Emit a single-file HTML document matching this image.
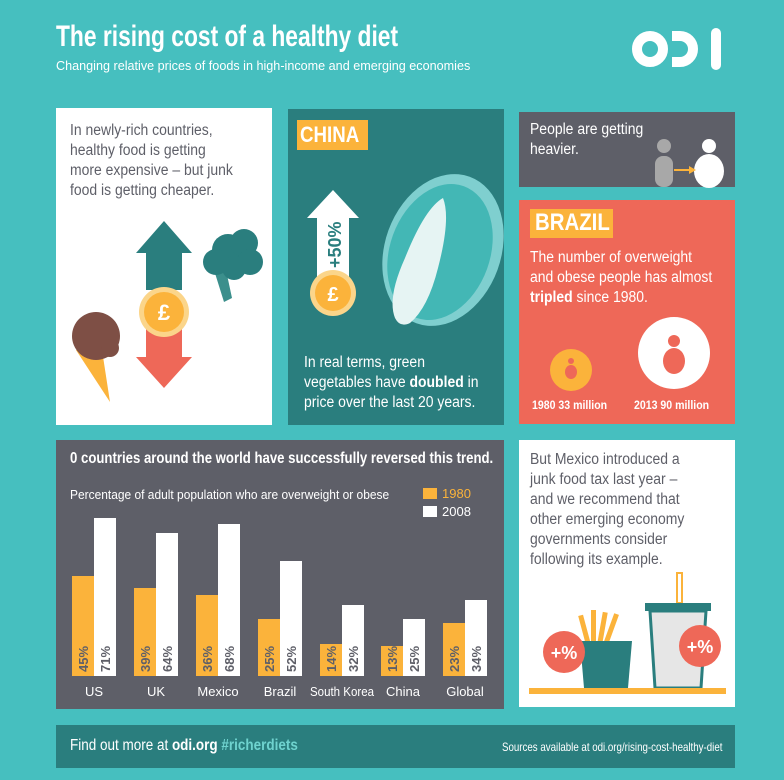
<!DOCTYPE html>
<html><head><meta charset="utf-8"><style>
*{margin:0;padding:0;box-sizing:border-box}
body{width:784px;height:780px;background:#46bfbf;position:relative;overflow:hidden;font-family:"Liberation Sans",sans-serif}
.a{position:absolute;transform-origin:0 0;white-space:nowrap}
.t{font-size:15.5px;line-height:20px;transform:scaleX(.9)}
</style></head><body>
<svg class="a" style="left:0;top:0" width="784" height="780" viewBox="0 0 784 780">
<rect x="56" y="108" width="216" height="317" fill="#fff"/>
<rect x="288" y="109" width="216" height="316" fill="#2a7e7e"/>
<rect x="519" y="112" width="216" height="75" fill="#5e5f68"/>
<rect x="519" y="200" width="216" height="224" fill="#ee6858"/>
<rect x="56" y="440" width="448" height="269" fill="#5e5f68"/>
<rect x="519" y="440" width="216" height="267" fill="#fff"/>
<rect x="56" y="725" width="679" height="43" fill="#2a7e7e"/>
<g fill="none" stroke="#fff" stroke-width="10">
<circle cx="650" cy="49" r="13"/>
<path d="M672 36 h8 a13 13 0 0 1 0 26 h-8"/>
</g>
<rect x="711" y="28" width="10" height="42" rx="5" fill="#fff"/>
<polygon points="164,221 192,253 182,253 182,290 146,290 146,253 136,253" fill="#2a7e7e"/>
<polygon points="164,388 192,357 182,357 182,318 146,318 146,357 136,357" fill="#ee6858"/>
<circle cx="164" cy="312" r="25" fill="#fbd58a"/>
<circle cx="164" cy="312" r="20" fill="#fbb33b"/>
<text x="164" y="320" font-size="22" fill="#fff" text-anchor="middle" font-weight="bold">£</text>
<path d="M214 270 l10 32 l8 -4 l-6 -28z" fill="#3b8f8c"/>
<g fill="#2a7e7e"><circle cx="228" cy="250" r="16"/><circle cx="244" cy="243" r="14"/><circle cx="250" cy="262" r="13"/><circle cx="216" cy="262" r="13"/><circle cx="234" cy="268" r="12"/></g>
<polygon points="76,350 102,350 110,402" fill="#fbb33b"/>
<circle cx="96" cy="336" r="24" fill="#7e4f45"/>
<circle cx="110" cy="348" r="9" fill="#7e4f45"/>
<rect x="297" y="120" width="71" height="30" fill="#fbb33b"/>
<polygon points="333,190 359,218 349,218 349,290 317,290 317,218 307,218" fill="#fff"/>
<circle cx="333" cy="293" r="23" fill="#fbd58a"/>
<circle cx="333" cy="293" r="18" fill="#fbb33b"/>
<text x="333" y="301" font-size="20" fill="#fff" text-anchor="middle" font-weight="bold">£</text>
<text transform="translate(341,268) rotate(-90)" font-size="18" fill="#2a7e7e" font-weight="bold">+50%</text>
<ellipse cx="443" cy="250" rx="58" ry="78" transform="rotate(20 443 250)" fill="#7fcfcf"/>
<ellipse cx="440" cy="252" rx="50" ry="70" transform="rotate(20 440 252)" fill="#43b7b5"/>
<path d="M395 318 q-8 -20 10 -60 q20 -50 38 -60 q8 20 -5 70 q-10 40 -28 55 q-10 5 -15 -5z" fill="#e6f4f3"/>
<circle cx="664" cy="146" r="7" fill="#a8a8a8"/><rect x="655" y="156" width="18" height="31" rx="8" fill="#a8a8a8"/>
<circle cx="709" cy="146" r="7" fill="#fff"/><ellipse cx="709" cy="171" rx="15" ry="17" fill="#fff"/>
<path d="M674 170 h18" stroke="#fbb33b" stroke-width="2"/><polygon points="696,170 689,166 689,174" fill="#fbb33b"/>
<rect x="530" y="209" width="83" height="29" fill="#fbb33b"/>
<circle cx="571" cy="370" r="21" fill="#fbb33b"/>
<circle cx="571" cy="361" r="3" fill="#ee6858"/><ellipse cx="571" cy="372" rx="6" ry="7" fill="#ee6858"/>
<circle cx="674" cy="353" r="36" fill="#fff"/>
<circle cx="674" cy="341" r="6" fill="#ee6858"/><ellipse cx="674" cy="361" rx="11" ry="13" fill="#ee6858"/>
<g fill="#fbb33b">
<rect x="72" y="576" width="22" height="100"/><rect x="134" y="588" width="22" height="88"/>
<rect x="196" y="595" width="22" height="81"/><rect x="258" y="619" width="22" height="57"/>
<rect x="320" y="644" width="22" height="32"/><rect x="381" y="646" width="22" height="30"/>
<rect x="443" y="623" width="22" height="53"/>
<rect x="423" y="488" width="14" height="11"/>
</g>
<g fill="#fff">
<rect x="94" y="518" width="22" height="158"/><rect x="156" y="533" width="22" height="143"/>
<rect x="218" y="524" width="22" height="152"/><rect x="280" y="561" width="22" height="115"/>
<rect x="342" y="605" width="22" height="71"/><rect x="403" y="619" width="22" height="57"/>
<rect x="465" y="600" width="22" height="76"/>
<rect x="423" y="506" width="14" height="11"/>
</g>
<g font-size="13" font-weight="bold" fill="#5e5f68">
<text transform="translate(88,672) rotate(-90)">45%</text><text transform="translate(150,672) rotate(-90)">39%</text>
<text transform="translate(212,672) rotate(-90)">36%</text><text transform="translate(274,672) rotate(-90)">25%</text>
<text transform="translate(336,672) rotate(-90)">14%</text><text transform="translate(397,672) rotate(-90)">13%</text>
<text transform="translate(459,672) rotate(-90)">23%</text>
<text transform="translate(110,672) rotate(-90)">71%</text><text transform="translate(172,672) rotate(-90)">64%</text>
<text transform="translate(234,672) rotate(-90)">68%</text><text transform="translate(296,672) rotate(-90)">52%</text>
<text transform="translate(358,672) rotate(-90)">32%</text><text transform="translate(419,672) rotate(-90)">25%</text>
<text transform="translate(481,672) rotate(-90)">34%</text>
</g>
<g fill="#fff" font-size="13" text-anchor="middle">
<text x="94" y="696">US</text><text x="156" y="696">UK</text><text x="218" y="696">Mexico</text>
<text x="280" y="696">Brazil</text><text x="342" y="696" textLength="64" lengthAdjust="spacingAndGlyphs">South Korea</text><text x="403" y="696">China</text><text x="465" y="696">Global</text>
</g>
<text x="442" y="498" font-size="13" fill="#fbb33b">1980</text>
<text x="442" y="516" font-size="13" fill="#fff">2008</text>
<g fill="#fbb33b"><rect x="582" y="615" width="5" height="28" transform="rotate(-15 584 630)"/><rect x="591" y="610" width="5" height="32"/><rect x="600" y="612" width="5" height="30" transform="rotate(10 602 628)"/><rect x="609" y="613" width="5" height="30" transform="rotate(20 611 628)"/></g>
<polygon points="580,641 632,641 628,688 584,688" fill="#2a7e7e"/>
<circle cx="564" cy="652" r="21" fill="#ee6858"/>
<text x="564" y="659" font-size="18" fill="#fff" text-anchor="middle" font-weight="bold">+%</text>
<rect x="677" y="573" width="5" height="30" fill="none" stroke="#fbb33b" stroke-width="2"/>
<rect x="645" y="603" width="66" height="8" fill="#2a7e7e"/>
<polygon points="650,611 706,611 701,688 655,688" fill="#e6e6e6" stroke="#2a7e7e" stroke-width="3"/>
<circle cx="700" cy="646" r="21" fill="#ee6858"/>
<text x="700" y="653" font-size="18" fill="#fff" text-anchor="middle" font-weight="bold">+%</text>
<rect x="529" y="688" width="197" height="6" fill="#fbb33b"/>
</svg>
<div class="a" style="left:56px;top:20px;font-size:30px;color:#fff;font-weight:bold;transform:scaleX(.76)">The rising cost of a healthy diet</div>
<div class="a" style="left:56px;top:58px;font-size:13px;color:#fff;transform:scaleX(.97)">Changing relative prices of foods in high-income and emerging economies</div>
<div class="a t" style="left:70px;top:121px;color:#5e5f68">In newly-rich countries,<br>healthy food is getting<br>more expensive – but junk<br>food is getting cheaper.</div>
<div class="a" style="left:300px;top:122px;font-size:22px;font-weight:bold;color:#fff;transform:scaleX(.85)">CHINA</div>
<div class="a t" style="left:304px;top:353px;color:#fff">In real terms, green<br>vegetables have <b>doubled</b> in<br>price over the last 20 years.</div>
<div class="a t" style="left:530px;top:120px;color:#fff">People are getting<br>heavier.</div>
<div class="a" style="left:535px;top:209px;font-size:24px;font-weight:bold;color:#fff;transform:scaleX(.85)">BRAZIL</div>
<div class="a t" style="left:530px;top:248px;color:#fff">The number of overweight<br>and obese people has almost<br><b>tripled</b> since 1980.</div>
<div class="a" style="left:532px;top:398px;font-size:12px;font-weight:bold;color:#fff;transform:scaleX(.88)">1980 33 million</div>
<div class="a" style="left:634px;top:398px;font-size:12px;font-weight:bold;color:#fff;transform:scaleX(.88)">2013 90 million</div>
<div class="a" style="left:70px;top:450px;font-size:15.5px;color:#fff;font-weight:bold;transform:scaleX(.85)">0 countries around the world have successfully reversed this trend.</div>
<div class="a" style="left:70px;top:487px;font-size:13px;color:#fff;transform:scaleX(.92)">Percentage of adult population who are overweight or obese</div>
<div class="a t" style="left:530px;top:450px;color:#5e5f68">But Mexico introduced a<br>junk food tax last year –<br>and we recommend that<br>other emerging economy<br>governments consider<br>following its example.</div>
<div class="a" style="left:70px;top:737px;font-size:15.5px;color:#fff;transform:scaleX(.87)">Find out more at <b>odi.org</b> <b style="color:#6fd3cf">#richerdiets</b></div>
<div class="a" style="left:502px;top:740px;font-size:12px;color:#fff;transform:scaleX(.81)">Sources available at odi.org/rising-cost-healthy-diet</div>
</body></html>
